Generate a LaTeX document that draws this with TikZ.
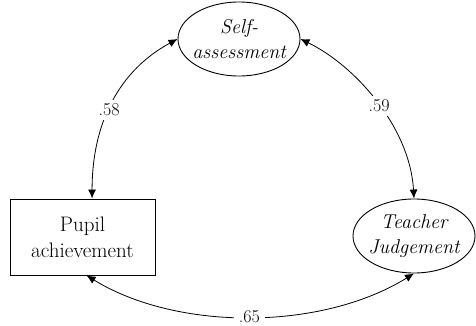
\documentclass[tikz,border=0pt]{standalone}
\usetikzlibrary{shapes.geometric,arrows.meta}
\begin{document}
\begin{tikzpicture}[x=1pt,y=-1pt,
  every node/.style={align=center},
  latent/.style={ellipse, draw, line width=0.9pt, minimum width=122pt, minimum height=74pt, inner xsep=-5pt, inner ysep=0pt, font=\fontsize{20}{25}\selectfont\itshape},
  observed/.style={rectangle, draw, line width=0.9pt, minimum width=145pt, minimum height=76pt, inner sep=0pt, font=\fontsize{21}{26}\selectfont},
  corr/.style={{Latex[length=9pt,width=8pt]}-{Latex[length=9pt,width=8pt]}, line width=0.8pt},
  coef/.style={fill=white, inner sep=4pt, font=\fontsize{18}{20}\selectfont}]
\useasboundingbox (0,0) rectangle (476,326);
\node[latent] (self) at (239,39) {Self-\\assessment};
\node[observed] (pupil) at (82.5,237) {Pupil\\achievement};
\node[latent] (teacher) at (414,236) {Teacher\\Judgement};
\draw[corr] (pupil.76) .. controls (92,122) and (120,70) .. node[coef, pos=0.45] {.58} (self.180);
\draw[corr] (self.0) .. controls (356,66) and (410,128) .. node[coef, pos=0.52] {.59} (teacher.north);
\draw[corr] (pupil.-84) .. controls (177,331) and (321,331) .. node[coef, pos=0.5, inner sep=5pt] {.65} (teacher.south);
\end{tikzpicture}
\end{document}
